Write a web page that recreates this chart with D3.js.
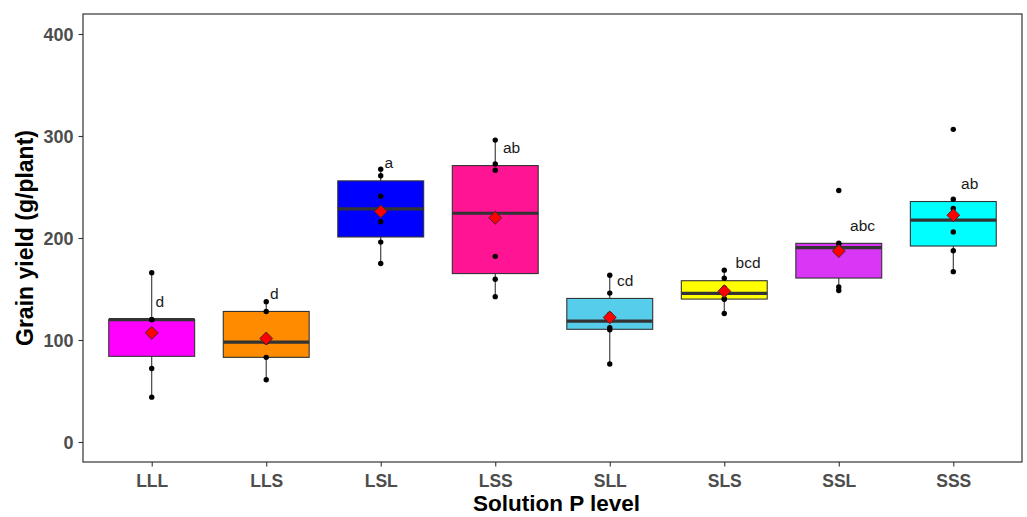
<!DOCTYPE html>
<html>
<head>
<meta charset="utf-8">
<script src="https://cdn.jsdelivr.net/npm/d3@7"></script>
<style>
  html, body { margin: 0; padding: 0; background: #ffffff; }
  svg { display: block; }
</style>
</head>
<body>
<svg id="chart" width="1027" height="517"></svg>
<script>
// Grain yield per plant (g/plant) for each solution P level treatment
const categories = ["LLL", "LLS", "LSL", "LSS", "SLL", "SLS", "SSL", "SSS"];

const yieldLLL = [44, 72, 120, 120, 120, 166];
const yieldLLS = [61, 83, 98, 128, 137.5];
const yieldLSL = [175, 196, 216, 241, 261, 267.5];
const yieldLSS = [142.5, 159.5, 182, 266.5, 272.5, 296];
const yieldSLL = [76.5, 110, 112, 125, 146, 163.5];
const yieldSLS = [126, 140, 140.5, 151, 160.5, 168.5];
const yieldSSL = [148.5, 152, 187, 194, 195, 246.5];
const yieldSSS = [167, 187.5, 206, 229, 238, 306.5];

// Significance letters (mean separation)
const letters = ["d", "d", "a", "ab", "cd", "bcd", "abc", "ab"];

const yTicks = [0, 100, 200, 300, 400];

const fillColors = ["#FF00FF", "#FF8C00", "#0000FF", "#FF1493",
                    "#56CEEB", "#FFFF00", "#D936F5", "#00FFFF"];

const groupValues = [yieldLLL, yieldLLS, yieldLSL, yieldLSS,
                     yieldSLL, yieldSLS, yieldSSL, yieldSSS];

// Box statistics (R type-7 quantiles, Tukey whiskers)
const stats = categories.map((cat, i) => {
  const v = groupValues[i].slice().sort(d3.ascending);
  const q1 = d3.quantile(v, 0.25);
  const med = d3.quantile(v, 0.5);
  const q3 = d3.quantile(v, 0.75);
  const iqr = q3 - q1;
  const lo = d3.min(v.filter(d => d >= q1 - 1.5 * iqr));
  const hi = d3.max(v.filter(d => d <= q3 + 1.5 * iqr));
  return { cat, values: v, q1, med, q3, lo, hi, mean: d3.mean(v),
           letter: letters[i], fill: fillColors[i] };
});

const panel = { left: 83, right: 1022, top: 14, bottom: 462 };
const svg = d3.select("#chart");

const x = d3.scalePoint()
  .domain(categories)
  .range([panel.left, panel.right])
  .padding(0.6);

const y = d3.scaleLinear()
  .domain([-19.6, 419.6])
  .range([panel.bottom, panel.top]);

const boxW = x.step() * 0.75;
const axisGrey = "#4D4D4D";
const lineGrey = "#333333";

// Panel background
svg.append("rect")
  .attr("x", panel.left).attr("y", panel.top)
  .attr("width", panel.right - panel.left)
  .attr("height", panel.bottom - panel.top)
  .attr("fill", "#ffffff");

// Boxplots
const g = svg.append("g").attr("class", "boxes");
const box = g.selectAll("g.box").data(stats).join("g").attr("class", "box");

box.append("line")
  .attr("x1", d => x(d.cat)).attr("x2", d => x(d.cat))
  .attr("y1", d => y(d.q3)).attr("y2", d => y(d.hi))
  .attr("stroke", lineGrey).attr("stroke-width", 1.1);
box.append("line")
  .attr("x1", d => x(d.cat)).attr("x2", d => x(d.cat))
  .attr("y1", d => y(d.q1)).attr("y2", d => y(d.lo))
  .attr("stroke", lineGrey).attr("stroke-width", 1.1);

box.append("rect")
  .attr("x", d => x(d.cat) - boxW / 2)
  .attr("width", boxW)
  .attr("y", d => y(d.q3))
  .attr("height", d => y(d.q1) - y(d.q3))
  .attr("fill", d => d.fill)
  .attr("stroke", lineGrey)
  .attr("stroke-width", 1.1);

box.append("line")
  .attr("x1", d => x(d.cat) - boxW / 2).attr("x2", d => x(d.cat) + boxW / 2)
  .attr("y1", d => y(d.med)).attr("y2", d => y(d.med))
  .attr("stroke", lineGrey).attr("stroke-width", 3.2);

// Individual observations
box.selectAll("circle")
  .data(d => d.values.map(v => ({ cat: d.cat, v })))
  .join("circle")
  .attr("cx", d => x(d.cat))
  .attr("cy", d => y(d.v))
  .attr("r", 2.7)
  .attr("fill", "#000000");

// Treatment means
const diamond = d3.symbol().type(d3.symbolSquare).size(84);
box.append("path")
  .attr("d", diamond)
  .attr("transform", d => `translate(${x(d.cat)},${y(d.mean)}) rotate(45)`)
  .attr("fill", "#FF0000")
  .attr("stroke", "#2a2a2a")
  .attr("stroke-width", 0.8);

// Significance letters
box.append("text")
  .text(d => d.letter)
  .attr("font-family", "'Liberation Sans', Arial, sans-serif")
  .attr("font-size", 15.5)
  .attr("fill", "#1a1a1a")
  .attr("y", d => y(d.q3) - 12.7)
  .attr("x", function (d) {
    return x(d.cat) + this.getComputedTextLength() * 0.45;
  });

// Panel border
svg.append("rect")
  .attr("x", panel.left).attr("y", panel.top)
  .attr("width", panel.right - panel.left)
  .attr("height", panel.bottom - panel.top)
  .attr("fill", "none")
  .attr("stroke", lineGrey)
  .attr("stroke-width", 1.2);

// Y axis
const yAxis = svg.append("g")
  .attr("transform", `translate(${panel.left},0)`)
  .call(d3.axisLeft(y).tickValues(yTicks).tickSize(4.5).tickPadding(5));
yAxis.select(".domain").remove();
yAxis.selectAll(".tick line").attr("stroke", lineGrey).attr("stroke-width", 1.1);
yAxis.selectAll(".tick text")
  .attr("font-family", "'Liberation Sans', Arial, sans-serif")
  .attr("font-size", 18)
  .attr("font-weight", "bold")
  .attr("fill", axisGrey)
  .attr("dy", "0.36em");

// X axis
const xAxis = svg.append("g")
  .attr("transform", `translate(0,${panel.bottom})`)
  .call(d3.axisBottom(x).tickSize(4.5).tickPadding(8));
xAxis.select(".domain").remove();
xAxis.selectAll(".tick line").attr("stroke", lineGrey).attr("stroke-width", 1.1);
xAxis.selectAll(".tick text")
  .attr("font-family", "'Liberation Sans', Arial, sans-serif")
  .attr("font-size", 17.5)
  .attr("font-weight", "bold")
  .attr("fill", axisGrey)
  .attr("dy", 0)
  .attr("y", 25);

// Axis titles
svg.append("text")
  .text("Solution P level")
  .attr("x", (panel.left + panel.right) / 2 + 4)
  .attr("y", 511)
  .attr("text-anchor", "middle")
  .attr("font-family", "'Liberation Sans', Arial, sans-serif")
  .attr("font-size", 22.5)
  .attr("font-weight", "bold")
  .attr("fill", "#000000");

svg.append("text")
  .text("Grain yield (g/plant)")
  .attr("transform", `translate(33,${(panel.top + panel.bottom) / 2}) rotate(-90)`)
  .attr("text-anchor", "middle")
  .attr("font-family", "'Liberation Sans', Arial, sans-serif")
  .attr("font-size", 23)
  .attr("font-weight", "bold")
  .attr("fill", "#000000");
</script>
</body>
</html>
